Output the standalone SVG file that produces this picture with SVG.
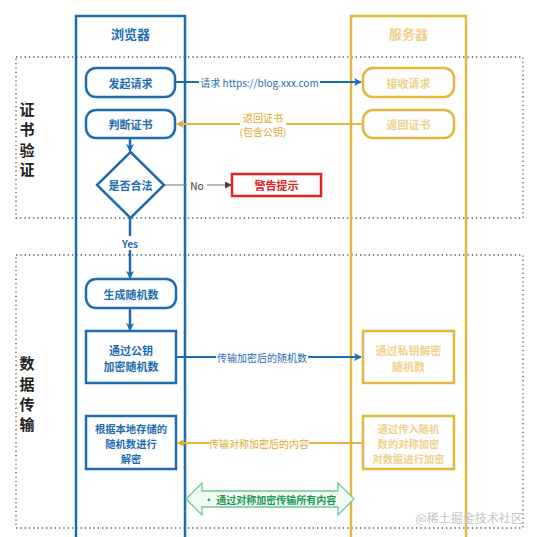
<svg xmlns="http://www.w3.org/2000/svg" width="535" height="537" viewBox="0 0 535 537">
<defs>
<style>
.t{font-family:"Noto Sans CJK SC","Liberation Sans",sans-serif;font-weight:bold;text-anchor:middle;dominant-baseline:central}
.blue{fill:#1d6db0}
.gold{fill:#e0aa2e}
.pale{fill:#f1d189}
.lb{stroke:#1d6db0;stroke-width:2.5;fill:#fff}
.ly{stroke:#e3b63f;stroke-width:2.5;fill:#fff}
.dot{fill:none;stroke:#555;stroke-width:1.3;stroke-dasharray:1.3 3}
.lbl{font-family:"Noto Sans CJK SC","Liberation Sans",sans-serif;font-size:10px;text-anchor:middle;dominant-baseline:central}
.s3{font-size:10.3px}
</style>
<marker id="ab" markerWidth="8" markerHeight="8" refX="7" refY="4" orient="auto" markerUnits="userSpaceOnUse"><path d="M0,0 L8,4 L0,8 L2,4 z" fill="#1d6db0"/></marker>
<marker id="ay" markerWidth="8" markerHeight="8" refX="7" refY="4" orient="auto" markerUnits="userSpaceOnUse"><path d="M0,0 L8,4 L0,8 L2,4 z" fill="#e0aa2e"/></marker>
<marker id="ag" markerWidth="7" markerHeight="7" refX="6" refY="3.5" orient="auto" markerUnits="userSpaceOnUse"><path d="M0,0 L7,3.5 L0,7 z" fill="#444"/></marker>
</defs>
<rect width="535" height="537" fill="#fff"/>

<g id="section-cert">
<rect class="dot" x="16" y="57" width="507" height="161"/>
<text class="t" font-size="15" fill="#222" x="27" y="108">证</text>
<text class="t" font-size="15" fill="#222" x="27" y="128">书</text>
<text class="t" font-size="15" fill="#222" x="27" y="149">验</text>
<text class="t" font-size="15" fill="#222" x="27" y="168">证</text>
</g>
<g id="section-data">
<rect class="dot" x="16" y="255" width="507" height="273"/>
<text class="t" font-size="15" fill="#222" x="27" y="362">数</text>
<text class="t" font-size="15" fill="#222" x="27" y="383">据</text>
<text class="t" font-size="15" fill="#222" x="27" y="403">传</text>
<text class="t" font-size="15" fill="#222" x="27" y="423">输</text>
</g>

<g id="lane-browser">
<path d="M76,540 V16 H185 V540" fill="none" stroke="#1d6db0" stroke-width="2.5"/>
<text class="t blue" font-size="13" x="130.5" y="33">浏览器</text>
</g>
<g id="lane-server">
<path d="M351,540 V16 H466 V540" fill="none" stroke="#e3b63f" stroke-width="2.5"/>
<text class="t pale" font-size="13" x="408.5" y="33">服务器</text>
</g>

<g id="connectors" fill="none">
<line x1="176" y1="82" x2="361" y2="82" stroke="#1d6db0" stroke-width="2" marker-end="url(#ab)"/>
<rect x="199" y="75" width="121" height="14" fill="#fff"/>
<text class="lbl blue" x="259.5" y="82">请求 https://blog.xxx.com</text>

<line x1="363" y1="124" x2="177" y2="124" stroke="#e3b63f" stroke-width="2" marker-end="url(#ay)"/>
<rect x="240" y="112" width="46" height="25" fill="#fff"/>
<text class="lbl gold" x="263" y="117">返回证书</text>
<text class="lbl gold" x="263" y="131">(包含公钥)</text>

<line x1="130" y1="138" x2="130" y2="151" stroke="#1d6db0" stroke-width="2.5" marker-end="url(#ab)"/>

<line x1="164" y1="185" x2="231" y2="185" stroke="#777" stroke-width="1.2" marker-end="url(#ag)"/>
<rect x="187" y="178" width="20" height="14" fill="#fff"/>
<text class="lbl" fill="#333" x="197" y="185">No</text>

<line x1="130" y1="218" x2="130" y2="278" stroke="#1d6db0" stroke-width="2.5" marker-end="url(#ab)"/>
<rect x="118" y="236" width="24" height="14" fill="#fff"/>
<text class="t blue" font-size="10" x="130" y="243">Yes</text>

<line x1="130" y1="308" x2="130" y2="330" stroke="#1d6db0" stroke-width="2.5" marker-end="url(#ab)"/>

<line x1="177" y1="357" x2="361" y2="357" stroke="#1d6db0" stroke-width="2" marker-end="url(#ab)"/>
<rect x="216" y="350" width="92" height="14" fill="#fff"/>
<text class="lbl blue" x="262" y="357">传输加密后的随机数</text>

<line x1="363" y1="443" x2="178" y2="443" stroke="#e3b63f" stroke-width="2" marker-end="url(#ay)"/>
<rect x="209" y="436" width="100" height="14" fill="#fff"/>
<text class="lbl gold" x="259" y="443">传输对称加密后的内容</text>

<path d="M186,499 L202,483 V491 H338 V483 L354,499 L338,515 V507 H202 V515 Z" fill="#f1fbf4" stroke="#6cc79a" stroke-width="1.3"/>
<text class="lbl" fill="#1e9a55" font-weight="bold" x="270" y="499">• 通过对称加密传输所有内容</text>
</g>

<g id="n-request">
<rect class="lb" x="86" y="68" width="89" height="29" rx="10"/>
<text class="t blue" font-size="11" x="130.5" y="82.5">发起请求</text>
</g>
<g id="n-check-cert">
<rect class="lb" x="86" y="110" width="89" height="28" rx="10"/>
<text class="t blue" font-size="11" x="130.5" y="124">判断证书</text>
</g>
<g id="n-valid">
<path class="lb" d="M130.5,152 L164,185 L130.5,218 L97,185 Z"/>
<text class="t blue" font-size="11" x="130.5" y="185">是否合法</text>
</g>
<g id="n-warn">
<rect x="232" y="174" width="89" height="22" fill="#fff" stroke="#e02424" stroke-width="2.5"/>
<text class="t" font-size="11" fill="#e02424" x="276.5" y="185">警告提示</text>
</g>
<g id="n-gen-random">
<rect class="lb" x="86" y="279" width="90" height="29" rx="10"/>
<text class="t blue" font-size="11" x="131" y="293.5">生成随机数</text>
</g>
<g id="n-encrypt">
<rect class="lb" x="86" y="331" width="90" height="52"/>
<text class="t blue" font-size="11" x="131" y="349.5">通过公钥</text>
<text class="t blue" font-size="11" x="131" y="365.5">加密随机数</text>
</g>
<g id="n-decrypt-local">
<rect class="lb" x="86" y="416" width="90" height="53"/>
<text class="t blue s3" x="131" y="428">根据本地存储的</text>
<text class="t blue s3" x="131" y="443">随机数进行</text>
<text class="t blue s3" x="131" y="458">解密</text>
</g>

<g id="n-receive">
<rect class="ly" x="363" y="68" width="91" height="29" rx="10"/>
<text class="t pale" font-size="11" x="408.5" y="82.5">接收请求</text>
</g>
<g id="n-return-cert">
<rect class="ly" x="363" y="110" width="91" height="28" rx="10"/>
<text class="t pale" font-size="11" x="408.5" y="124">返回证书</text>
</g>
<g id="n-private-decrypt">
<rect class="ly" x="363" y="331" width="91" height="52"/>
<text class="t pale" font-size="11" x="408.5" y="349.5">通过私钥解密</text>
<text class="t pale" font-size="11" x="408.5" y="365.5">随机数</text>
</g>
<g id="n-sym-encrypt">
<rect class="ly" x="363" y="416" width="91" height="53"/>
<text class="t pale s3" x="408.5" y="428">通过传入随机</text>
<text class="t pale s3" x="408.5" y="443">数的对称加密</text>
<text class="t pale s3" x="408.5" y="458">对数据进行加密</text>
</g>

<text x="469" y="517" font-family="Noto Sans CJK SC,sans-serif" font-size="12" fill="#c4c4c4" text-anchor="middle" dominant-baseline="central">@稀土掘金技术社区</text>
</svg>
